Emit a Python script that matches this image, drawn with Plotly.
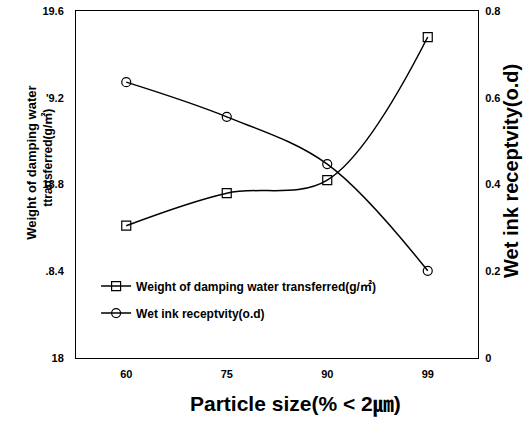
import plotly.graph_objects as go

categories = ["60", "75", "90", "99"]
weight = [18.61, 18.76, 18.82, 19.48]
ink = [0.636, 0.556, 0.447, 0.201]
left_tickvals = [18, 18.4, 18.8, 19.2, 19.6]
left_ticktext = ["18", ".8.4", "18.8", "'9.2", "19.6"]
right_tickvals = [0, 0.2, 0.4, 0.6, 0.8]
right_ticktext = ["0", "0.2", "0.4", "0.6", "0.8"]

FONT = "Liberation Sans, Arial, Noto Sans CJK JP, sans-serif"

fig = go.Figure()
fig.add_trace(go.Scatter(
    x=categories, y=weight, name="Weight of damping water transferred(g/㎡)",
    legendgroup="a",
    mode="lines+markers", line=dict(color="black", width=1.5, shape="spline"),
    marker=dict(symbol="square-open", size=9, color="black", line=dict(width=1.2)),
    yaxis="y"))
fig.add_trace(go.Scatter(
    x=categories, y=ink, name="Wet ink receptvity(o.d)",
    legendgroup="b",
    mode="lines+markers", line=dict(color="black", width=1.5, shape="spline"),
    marker=dict(symbol="circle-open", size=9, color="black", line=dict(width=1.2)),
    yaxis="y2"))

fig.update_layout(
    width=526, height=428,
    margin=dict(l=76, r=48, t=11, b=70, autoexpand=False),
    paper_bgcolor="white", plot_bgcolor="white",
    font=dict(family=FONT, color="black", size=11, weight="bold"),
    showlegend=True,
    legend=dict(x=0.050, y=0.249, xanchor="left", yanchor="top",
                bgcolor="rgba(0,0,0,0)", font=dict(size=12, weight="bold"),
                itemwidth=30, tracegroupgap=8),
    xaxis=dict(type="category", range=[-0.5, 3.5], showgrid=False, zeroline=False,
               showline=True, linecolor="black", linewidth=1, mirror=True,
               ticks="", ticklabelstandoff=6, automargin=False,
               tickfont=dict(size=11, weight="bold")),
    yaxis=dict(range=[18, 19.6], tickvals=left_tickvals, ticktext=left_ticktext,
               showgrid=False, zeroline=False, showline=True, linecolor="black", linewidth=1,
               ticks="", ticklabelstandoff=9, automargin=False, ticklabeloverflow="allow",
               tickfont=dict(size=11, weight="bold")),
    yaxis2=dict(range=[0, 0.8], tickvals=right_tickvals, ticktext=right_ticktext,
                overlaying="y", side="right", showgrid=False, zeroline=False,
                showline=True, linecolor="black", linewidth=1, ticks="",
                ticklabelstandoff=4, automargin=False, ticklabeloverflow="allow",
                tickfont=dict(size=11, weight="bold")),
    annotations=[
        dict(text="Weight of damping water",
             xref="paper", yref="paper", x=-0.110, y=0.562,
             xanchor="center", yanchor="middle",
             textangle=-90, showarrow=False,
             font=dict(size=13, weight="bold")),
        dict(text="ttransferred(g/㎡)",
             xref="paper", yref="paper", x=-0.073, y=0.576,
             xanchor="center", yanchor="middle",
             textangle=-90, showarrow=False,
             font=dict(size=12, weight="bold")),
        dict(text="Wet ink receptvity(o.d)",
             xref="paper", yref="paper", x=1.082, y=0.539,
             xanchor="center", yanchor="middle",
             textangle=-90, showarrow=False,
             font=dict(size=20, weight="bold")),
        dict(text="Particle size(% < 2㎛)",
             xref="paper", yref="paper", x=0.545, y=-0.135,
             xanchor="center", yanchor="middle", showarrow=False,
             font=dict(size=21, weight="bold")),
    ],
)

fig.write_html("out.html", config={"displayModeBar": False},
               post_script="document.body.style.margin='0';")
